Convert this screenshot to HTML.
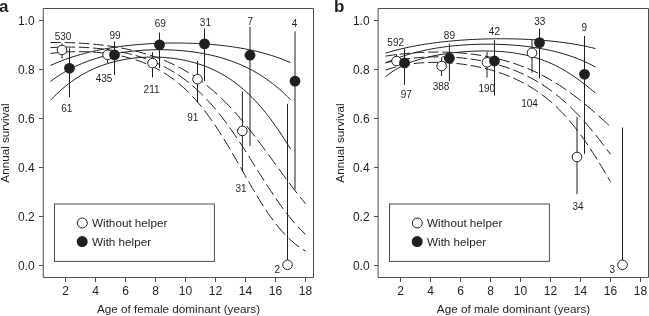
<!DOCTYPE html>
<html><head><meta charset="utf-8"><style>
html,body{margin:0;padding:0;background:#fff;width:649px;height:316px;overflow:hidden}
svg{display:block;filter:grayscale(1)}
text{font-family:"Liberation Sans",sans-serif;fill:#231f20}
.t{font-size:12px}
.tt{font-size:11.7px}
.n{font-size:10px;text-anchor:middle}
.lt{font-size:17px;font-weight:bold}
.ax{fill:none;stroke:#4d4d4f;stroke-width:1}
.lg{fill:#fff;stroke:#4d4d4f;stroke-width:1}
.s{fill:none;stroke:#231f20;stroke-width:1}
.d{fill:none;stroke:#231f20;stroke-width:1}
.e{stroke:#231f20;stroke-width:1}
.o{fill:#fff;stroke:#231f20;stroke-width:1}
.f{fill:#231f20;stroke:none}
</style></head><body>
<svg width="649" height="316" viewBox="0 0 649 316">
<path d="M43.25,8.5 H313.5 V277.5 H43.25 Z" class="ax"/>
<line x1="39" y1="265.5" x2="43.25" y2="265.5" class="ax"/>
<text x="34.6" y="269.8" class="t" text-anchor="end">0.0</text>
<line x1="39" y1="216.5" x2="43.25" y2="216.5" class="ax"/>
<text x="34.6" y="220.8" class="t" text-anchor="end">0.2</text>
<line x1="39" y1="167.5" x2="43.25" y2="167.5" class="ax"/>
<text x="34.6" y="171.8" class="t" text-anchor="end">0.4</text>
<line x1="39" y1="118.5" x2="43.25" y2="118.5" class="ax"/>
<text x="34.6" y="122.8" class="t" text-anchor="end">0.6</text>
<line x1="39" y1="69.5" x2="43.25" y2="69.5" class="ax"/>
<text x="34.6" y="73.8" class="t" text-anchor="end">0.8</text>
<line x1="39" y1="20.5" x2="43.25" y2="20.5" class="ax"/>
<text x="34.6" y="24.8" class="t" text-anchor="end">1.0</text>
<line x1="65.5" y1="277.5" x2="65.5" y2="282" class="ax"/>
<text x="65.5" y="295" class="t" text-anchor="middle">2</text>
<line x1="95.5" y1="277.5" x2="95.5" y2="282" class="ax"/>
<text x="95.5" y="295" class="t" text-anchor="middle">4</text>
<line x1="125.5" y1="277.5" x2="125.5" y2="282" class="ax"/>
<text x="125.5" y="295" class="t" text-anchor="middle">6</text>
<line x1="155.5" y1="277.5" x2="155.5" y2="282" class="ax"/>
<text x="155.5" y="295" class="t" text-anchor="middle">8</text>
<line x1="185.5" y1="277.5" x2="185.5" y2="282" class="ax"/>
<text x="185.5" y="295" class="t" text-anchor="middle">10</text>
<line x1="215.5" y1="277.5" x2="215.5" y2="282" class="ax"/>
<text x="215.5" y="295" class="t" text-anchor="middle">12</text>
<line x1="245.5" y1="277.5" x2="245.5" y2="282" class="ax"/>
<text x="245.5" y="295" class="t" text-anchor="middle">14</text>
<line x1="275.5" y1="277.5" x2="275.5" y2="282" class="ax"/>
<text x="275.5" y="295" class="t" text-anchor="middle">16</text>
<line x1="305.5" y1="277.5" x2="305.5" y2="282" class="ax"/>
<text x="305.5" y="295" class="t" text-anchor="middle">18</text>
<text x="178.5" y="313.2" class="tt" text-anchor="middle">Age of female dominant (years)</text>
<text transform="translate(8.8,143) rotate(-90)" class="tt" text-anchor="middle">Annual survival</text>
<text x="-1" y="11.8" class="lt">a</text>
<rect x="54.5" y="204.0" width="159.9" height="57.4" class="lg"/>
<circle cx="82.3" cy="223" r="5.0" class="o"/>
<circle cx="82.2" cy="241.6" r="5.5" class="f"/>
<text x="92" y="227.2" class="tt">Without helper</text>
<text x="92" y="245.8" class="tt">With helper</text>
<path d="M378.1,8.5 H648.5 V277.5 H378.1 Z" class="ax"/>
<line x1="374" y1="265.5" x2="378.1" y2="265.5" class="ax"/>
<text x="369.6" y="269.8" class="t" text-anchor="end">0.0</text>
<line x1="374" y1="216.5" x2="378.1" y2="216.5" class="ax"/>
<text x="369.6" y="220.8" class="t" text-anchor="end">0.2</text>
<line x1="374" y1="167.5" x2="378.1" y2="167.5" class="ax"/>
<text x="369.6" y="171.8" class="t" text-anchor="end">0.4</text>
<line x1="374" y1="118.5" x2="378.1" y2="118.5" class="ax"/>
<text x="369.6" y="122.8" class="t" text-anchor="end">0.6</text>
<line x1="374" y1="69.5" x2="378.1" y2="69.5" class="ax"/>
<text x="369.6" y="73.8" class="t" text-anchor="end">0.8</text>
<line x1="374" y1="20.5" x2="378.1" y2="20.5" class="ax"/>
<text x="369.6" y="24.8" class="t" text-anchor="end">1.0</text>
<line x1="400.5" y1="277.5" x2="400.5" y2="282" class="ax"/>
<text x="400.5" y="295" class="t" text-anchor="middle">2</text>
<line x1="430.5" y1="277.5" x2="430.5" y2="282" class="ax"/>
<text x="430.5" y="295" class="t" text-anchor="middle">4</text>
<line x1="460.5" y1="277.5" x2="460.5" y2="282" class="ax"/>
<text x="460.5" y="295" class="t" text-anchor="middle">6</text>
<line x1="490.5" y1="277.5" x2="490.5" y2="282" class="ax"/>
<text x="490.5" y="295" class="t" text-anchor="middle">8</text>
<line x1="520.5" y1="277.5" x2="520.5" y2="282" class="ax"/>
<text x="520.5" y="295" class="t" text-anchor="middle">10</text>
<line x1="550.5" y1="277.5" x2="550.5" y2="282" class="ax"/>
<text x="550.5" y="295" class="t" text-anchor="middle">12</text>
<line x1="580.5" y1="277.5" x2="580.5" y2="282" class="ax"/>
<text x="580.5" y="295" class="t" text-anchor="middle">14</text>
<line x1="610.5" y1="277.5" x2="610.5" y2="282" class="ax"/>
<text x="610.5" y="295" class="t" text-anchor="middle">16</text>
<line x1="640.5" y1="277.5" x2="640.5" y2="282" class="ax"/>
<text x="640.5" y="295" class="t" text-anchor="middle">18</text>
<text x="513.5" y="313.2" class="tt" text-anchor="middle">Age of male dominant (years)</text>
<text transform="translate(343.8,143) rotate(-90)" class="tt" text-anchor="middle">Annual survival</text>
<text x="334" y="11.8" class="lt">b</text>
<rect x="389.5" y="204.0" width="159.9" height="57.4" class="lg"/>
<circle cx="417.3" cy="223" r="5.0" class="o"/>
<circle cx="417.2" cy="241.6" r="5.5" class="f"/>
<text x="427" y="227.2" class="tt">Without helper</text>
<text x="427" y="245.8" class="tt">With helper</text>
<path d="M50.50,65.46 L54.17,63.82 L57.88,62.26 L61.62,60.78 L65.39,59.37 L69.19,58.03 L73.01,56.77 L76.85,55.58 L80.71,54.45 L84.59,53.39 L88.49,52.40 L92.41,51.47 L96.33,50.60 L100.27,49.78 L104.22,49.03 L108.18,48.32 L112.15,47.67 L116.13,47.06 L120.12,46.51 L124.11,46.00 L128.10,45.53 L132.10,45.11 L136.11,44.73 L140.12,44.39 L144.13,44.08 L148.14,43.82 L152.16,43.60 L156.18,43.41 L160.20,43.25 L164.22,43.14 L168.24,43.05 L172.27,43.01 L176.29,43.00 L180.31,43.02 L184.34,43.08 L188.36,43.17 L192.38,43.30 L196.40,43.47 L200.42,43.67 L204.43,43.92 L208.45,44.20 L212.46,44.52 L216.46,44.89 L220.46,45.30 L224.46,45.75 L228.45,46.25 L232.44,46.80 L236.42,47.41 L240.39,48.06 L244.35,48.77 L248.30,49.54 L252.23,50.37 L256.16,51.26 L260.06,52.21 L263.95,53.24 L267.82,54.34 L271.67,55.51 L275.50,56.76 L279.29,58.09 L283.06,59.50 L286.80,60.99 L290.50,62.57" class="s"/>
<path d="M50.50,81.41 L53.73,79.05 L57.03,76.79 L60.38,74.61 L63.80,72.53 L67.27,70.55 L70.80,68.67 L74.37,66.88 L78.00,65.20 L81.67,63.61 L85.38,62.13 L89.13,60.74 L92.92,59.45 L96.73,58.25 L100.57,57.14 L104.44,56.12 L108.32,55.18 L112.23,54.33 L116.15,53.55 L120.09,52.86 L124.04,52.24 L128.00,51.69 L131.97,51.21 L135.95,50.81 L139.93,50.46 L143.92,50.19 L147.92,49.97 L151.91,49.82 L155.91,49.73 L159.91,49.71 L163.90,49.74 L167.90,49.84 L171.90,50.00 L175.89,50.22 L179.88,50.50 L183.86,50.85 L187.84,51.27 L191.81,51.75 L195.77,52.30 L199.72,52.93 L203.65,53.63 L207.58,54.40 L211.48,55.26 L215.37,56.19 L219.24,57.21 L223.08,58.31 L226.89,59.51 L230.68,60.79 L234.43,62.17 L238.15,63.65 L241.83,65.22 L245.46,66.88 L249.05,68.65 L252.59,70.51 L256.08,72.47 L259.51,74.52 L262.88,76.66 L266.20,78.90 L269.45,81.22 L272.64,83.63 L275.77,86.12 L278.84,88.68 L281.84,91.32 L284.79,94.03 L287.67,96.79 L290.50,99.62" class="s"/>
<path d="M50.50,100.25 L53.28,97.36 L56.13,94.53 L59.05,91.78 L62.05,89.10 L65.12,86.52 L68.26,84.02 L71.48,81.62 L74.77,79.32 L78.13,77.13 L81.56,75.04 L85.06,73.07 L88.62,71.22 L92.24,69.48 L95.91,67.87 L99.63,66.37 L103.40,64.99 L107.21,63.73 L111.06,62.58 L114.94,61.55 L118.85,60.63 L122.78,59.82 L126.73,59.12 L130.70,58.53 L134.69,58.03 L138.68,57.64 L142.68,57.35 L146.69,57.16 L150.71,57.07 L154.72,57.07 L158.73,57.17 L162.74,57.37 L166.75,57.67 L170.74,58.07 L174.72,58.57 L178.69,59.18 L182.64,59.89 L186.57,60.70 L190.48,61.63 L194.35,62.67 L198.20,63.82 L202.01,65.09 L205.77,66.47 L209.50,67.98 L213.17,69.60 L216.79,71.34 L220.34,73.20 L223.84,75.17 L227.27,77.25 L230.63,79.45 L233.92,81.75 L237.14,84.15 L240.28,86.64 L243.35,89.23 L246.35,91.90 L249.28,94.65 L252.13,97.47 L254.92,100.36 L257.64,103.31 L260.29,106.32 L262.89,109.38 L265.43,112.49 L267.91,115.64 L270.35,118.84 L272.73,122.06 L275.07,125.32 L277.38,128.61 L279.64,131.93 L281.87,135.27 L284.06,138.63 L286.23,142.00 L288.38,145.40 L290.50,148.80" class="s"/>
<path d="M50.50,42.52 L53.97,42.48 L57.43,42.47 L60.90,42.50 M64.70,42.55 L68.17,42.64 L71.63,42.75 L75.10,42.89 M78.90,43.09 L82.37,43.29 L85.84,43.53 L89.30,43.81 M93.10,44.14 L96.57,44.48 L100.04,44.86 L103.50,45.27 M107.30,45.77 L110.77,46.26 L114.24,46.80 L117.70,47.38 M121.50,48.06 L124.98,48.73 L128.44,49.45 L131.90,50.22 M135.70,51.13 L139.18,52.02 L142.65,52.97 L146.10,53.97 M149.90,55.15 L153.39,56.30 L156.86,57.52 L160.30,58.81 M164.10,60.31 L167.60,61.79 L171.07,63.34 L174.50,64.97 M178.30,66.88 L181.81,68.75 L185.28,70.71 L188.70,72.74 M192.50,75.13 L196.02,77.47 L199.49,79.89 L202.90,82.40 M206.70,85.34 L210.23,88.21 L213.70,91.17 L217.10,94.20 M220.90,97.75 L223.50,100.27 L226.06,102.83 L228.59,105.43 L231.08,108.06 M234.56,111.86 L237.60,115.29 L240.60,118.75 L243.55,122.26 M246.66,126.06 L249.43,129.50 L252.16,132.97 L254.87,136.46 M257.77,140.26 L260.37,143.71 L262.96,147.18 L265.53,150.66 M268.32,154.46 L270.85,157.92 L273.37,161.39 L275.90,164.86 M278.66,168.66 L281.20,172.13 L283.74,175.60 L286.29,179.06 M289.13,182.86 L291.76,186.34 L294.41,189.81 L297.09,193.26 M300.10,197.06 L302.78,200.37 L305.50,203.65" class="d"/>
<path d="M50.50,47.65 L53.96,47.44 L57.43,47.28 L60.90,47.16 M64.70,47.08 L68.17,47.04 L71.63,47.05 L75.10,47.10 M78.90,47.20 L82.37,47.33 L85.84,47.51 L89.30,47.72 M93.10,48.01 L96.57,48.33 L100.04,48.68 L103.50,49.09 M107.30,49.59 L110.78,50.10 L114.24,50.67 L117.70,51.29 M121.50,52.04 L124.98,52.79 L128.45,53.60 L131.90,54.47 M135.70,55.52 L139.19,56.56 L142.66,57.67 L146.10,58.86 M149.90,60.28 L153.40,61.68 L156.87,63.17 L160.30,64.75 M164.10,66.63 L167.62,68.49 L171.09,70.45 L174.50,72.51 M178.30,74.96 L181.84,77.39 L185.31,79.93 L188.70,82.56 M192.50,85.70 L195.17,88.02 L197.80,90.41 L200.37,92.84 L202.90,95.33 M206.58,99.13 L209.72,102.53 L212.79,106.00 L215.78,109.53 M218.89,113.33 L221.59,116.76 L224.25,120.23 L226.85,123.73 M229.60,127.53 L232.04,130.97 L234.44,134.44 L236.81,137.93 M239.35,141.73 L241.63,145.19 L243.88,148.65 L246.12,152.13 M248.54,155.93 L250.74,159.39 L252.92,162.86 L255.11,166.33 M257.50,170.13 L259.68,173.60 L261.87,177.07 L264.07,180.53 M266.51,184.33 L268.76,187.81 L271.03,191.28 L273.33,194.73 M275.91,198.53 L278.33,202.03 L280.80,205.49 L283.30,208.93 M286.17,212.73 L288.93,216.26 L291.76,219.72 L294.66,223.13 M298.08,226.93 L300.50,229.47 L302.97,231.95 L305.50,234.36" class="d"/>
<path d="M50.50,53.45 L53.96,53.03 L57.43,52.67 L60.90,52.36 M64.70,52.08 L68.16,51.89 L71.63,51.75 L75.10,51.66 M78.90,51.63 L82.37,51.66 L85.83,51.74 L89.30,51.87 M93.10,52.09 L96.57,52.34 L100.04,52.65 L103.50,53.03 M107.30,53.51 L110.78,54.02 L114.24,54.59 L117.70,55.24 M121.50,56.03 L124.99,56.84 L128.45,57.73 L131.90,58.70 M135.70,59.87 L139.20,61.05 L142.67,62.33 L146.10,63.70 M149.90,65.34 L153.42,67.00 L156.89,68.77 L160.30,70.64 M164.10,72.89 L167.64,75.16 L171.11,77.55 L174.50,80.05 M178.30,83.06 L180.99,85.33 L183.61,87.66 L186.18,90.05 L188.70,92.50 M192.39,96.30 L195.49,99.70 L198.50,103.17 L201.44,106.70 M204.45,110.50 L207.05,113.93 L209.59,117.40 L212.08,120.90 M214.69,124.70 L216.99,128.15 L219.25,131.61 L221.47,135.10 M223.83,138.90 L225.94,142.36 L228.03,145.82 L230.09,149.30 M232.32,153.10 L234.33,156.57 L236.32,160.03 L238.31,163.50 M240.47,167.30 L242.44,170.77 L244.42,174.24 L246.39,177.70 M248.57,181.50 L250.57,184.98 L252.59,188.45 L254.63,191.90 M256.90,195.70 L259.02,199.19 L261.17,202.66 L263.36,206.10 M265.85,209.90 L268.21,213.41 L270.64,216.88 L273.12,220.30 M276.02,224.10 L278.89,227.66 L281.86,231.13 L284.94,234.50 M288.69,238.27 L292.02,241.32 L295.48,244.22 L299.09,246.93 M302.89,249.49 L305.50,251.06" class="d"/>
<path d="M385.50,53.15 L389.34,52.01 L393.19,50.94 L397.06,49.92 L400.94,48.97 L404.84,48.07 L408.75,47.22 L412.67,46.42 L416.60,45.68 L420.54,44.98 L424.49,44.33 L428.44,43.72 L432.40,43.15 L436.37,42.62 L440.34,42.14 L444.32,41.69 L448.30,41.28 L452.28,40.90 L456.26,40.55 L460.25,40.24 L464.24,39.96 L468.24,39.71 L472.23,39.49 L476.23,39.30 L480.23,39.14 L484.22,39.01 L488.22,38.90 L492.22,38.83 L496.22,38.78 L500.23,38.76 L504.23,38.76 L508.23,38.80 L512.23,38.86 L516.23,38.95 L520.23,39.07 L524.22,39.22 L528.22,39.41 L532.22,39.62 L536.21,39.86 L540.20,40.14 L544.19,40.46 L548.17,40.81 L552.16,41.19 L556.13,41.62 L560.11,42.09 L564.07,42.61 L568.04,43.16 L571.99,43.77 L575.94,44.43 L579.87,45.14 L583.80,45.91 L587.71,46.74 L591.61,47.62 L595.50,48.58" class="s"/>
<path d="M385.50,62.92 L389.16,61.31 L392.86,59.78 L396.59,58.35 L400.36,56.99 L404.15,55.72 L407.97,54.54 L411.81,53.43 L415.68,52.39 L419.56,51.44 L423.46,50.55 L427.38,49.73 L431.31,48.97 L435.25,48.28 L439.20,47.65 L443.16,47.08 L447.12,46.56 L451.10,46.10 L455.08,45.69 L459.06,45.34 L463.05,45.03 L467.04,44.77 L471.04,44.56 L475.04,44.39 L479.03,44.27 L483.03,44.20 L487.03,44.17 L491.03,44.19 L495.03,44.25 L499.03,44.36 L503.03,44.51 L507.03,44.72 L511.02,44.97 L515.01,45.27 L518.99,45.62 L522.97,46.02 L526.95,46.48 L530.91,47.00 L534.87,47.57 L538.82,48.21 L542.76,48.91 L546.69,49.67 L550.60,50.51 L554.50,51.42 L558.37,52.40 L562.23,53.47 L566.06,54.61 L569.87,55.85 L573.65,57.16 L577.39,58.57 L581.10,60.07 L584.77,61.67 L588.39,63.36 L591.97,65.15 L595.50,67.03" class="s"/>
<path d="M385.50,76.75 L388.66,74.24 L391.94,71.89 L395.34,69.72 L398.84,67.71 L402.43,65.87 L406.10,64.19 L409.83,62.65 L413.61,61.26 L417.45,60.00 L421.31,58.85 L425.21,57.81 L429.14,56.86 L433.08,56.01 L437.04,55.23 L441.02,54.53 L445.00,53.90 L449.00,53.34 L453.00,52.84 L457.01,52.40 L461.03,52.01 L465.05,51.69 L469.08,51.42 L473.11,51.21 L477.14,51.07 L481.18,50.98 L485.21,50.96 L489.25,51.00 L493.28,51.11 L497.31,51.30 L501.34,51.56 L505.36,51.91 L509.37,52.34 L513.37,52.86 L517.36,53.48 L521.33,54.19 L525.28,55.01 L529.21,55.93 L533.11,56.97 L536.98,58.12 L540.81,59.39 L544.60,60.77 L548.34,62.28 L552.04,63.89 L555.68,65.63 L559.27,67.47 L562.81,69.42 L566.29,71.47 L569.71,73.61 L573.08,75.83 L576.39,78.13 L579.66,80.49 L582.89,82.92 L586.08,85.39 L589.24,87.90 L592.38,90.44 L595.50,92.99" class="s"/>
<path d="M385.50,56.17 L388.96,55.63 L392.43,55.13 L395.90,54.67 M399.70,54.21 L403.16,53.82 L406.63,53.47 L410.10,53.16 M413.90,52.86 L417.36,52.63 L420.83,52.43 L424.30,52.27 M428.10,52.14 L431.57,52.06 L435.03,52.02 L438.50,52.02 M442.30,52.07 L445.77,52.15 L449.23,52.27 L452.70,52.43 M456.50,52.66 L459.97,52.91 L463.44,53.21 L466.90,53.55 M470.70,53.98 L474.17,54.42 L477.64,54.91 L481.10,55.45 M484.90,56.10 L488.38,56.75 L491.84,57.46 L495.30,58.22 M499.10,59.13 L502.58,60.02 L506.05,60.98 L509.50,61.99 M513.30,63.19 L516.79,64.37 L520.26,65.61 L523.70,66.91 M527.50,68.44 L531.00,69.94 L534.46,71.50 L537.90,73.13 M541.70,75.03 L545.20,76.88 L548.67,78.79 L552.10,80.77 M555.90,83.07 L559.41,85.29 L562.87,87.58 L566.30,89.92 M570.10,92.62 L573.61,95.20 L577.07,97.84 L580.50,100.53 M584.30,103.60 L587.80,106.51 L591.26,109.45 L594.70,112.43 M598.50,115.78 L601.12,118.13 L603.72,120.49 L606.31,122.86 L608.90,125.24" class="d"/>
<path d="M385.50,62.83 L388.95,62.02 L392.42,61.28 L395.90,60.60 M399.70,59.92 L403.16,59.37 L406.63,58.87 L410.10,58.44 M413.90,58.02 L417.36,57.69 L420.83,57.42 L424.30,57.20 M428.10,57.01 L431.57,56.90 L435.03,56.83 L438.50,56.81 M442.30,56.85 L445.77,56.93 L449.24,57.07 L452.70,57.25 M456.50,57.51 L459.97,57.80 L463.44,58.15 L466.90,58.54 M470.70,59.04 L474.18,59.56 L477.64,60.13 L481.10,60.76 M484.90,61.52 L488.38,62.28 L491.85,63.11 L495.30,64.01 M499.10,65.07 L502.59,66.13 L506.06,67.26 L509.50,68.46 M513.30,69.88 L516.80,71.29 L520.27,72.78 L523.70,74.34 M527.50,76.19 L531.01,78.01 L534.48,79.92 L537.90,81.91 M541.70,84.26 L545.23,86.57 L548.69,88.97 L552.10,91.45 M555.90,94.37 L559.44,97.24 L562.90,100.19 L566.30,103.22 M570.10,106.77 L572.69,109.29 L575.25,111.85 L577.77,114.45 L580.25,117.09 M583.71,120.89 L586.73,124.31 L589.71,127.78 L592.64,131.29 M595.74,135.09 L598.48,138.53 L601.19,142.00 L603.88,145.49 M606.76,149.29 L608.64,151.79 L610.50,154.29" class="d"/>
<path d="M385.50,70.13 L388.93,68.95 L392.40,67.88 L395.90,66.92 M399.70,66.00 L403.15,65.27 L406.62,64.63 L410.10,64.08 M413.90,63.57 L417.36,63.19 L420.83,62.89 L424.30,62.65 M428.10,62.47 L431.57,62.38 L435.03,62.35 L438.50,62.38 M442.30,62.48 L445.77,62.63 L449.24,62.85 L452.70,63.11 M456.50,63.48 L459.97,63.87 L463.44,64.31 L466.90,64.81 M470.70,65.44 L474.18,66.07 L477.65,66.76 L481.10,67.51 M484.90,68.41 L488.39,69.31 L491.85,70.28 L495.30,71.31 M499.10,72.54 L502.59,73.75 L506.06,75.04 L509.50,76.41 M513.30,78.03 L516.81,79.64 L520.28,81.33 L523.70,83.10 M527.50,85.21 L531.03,87.30 L534.49,89.49 L537.90,91.78 M541.70,94.50 L545.25,97.20 L548.72,100.02 L552.10,102.92 M555.90,106.39 L558.49,108.89 L561.03,111.44 L563.52,114.04 L565.96,116.69 M569.31,120.49 L572.17,123.90 L574.97,127.37 L577.71,130.89 M580.55,134.69 L583.04,138.12 L585.47,141.59 L587.86,145.09 M590.39,148.89 L592.64,152.34 L594.85,155.80 L597.03,159.29 M599.37,163.09 L601.47,166.55 L603.55,170.01 L605.62,173.49 M607.86,177.29 L610.50,181.79" class="d"/>
<line x1="62.0" y1="43.5" x2="62.0" y2="58.5" class="e"/>
<line x1="69.5" y1="48.3" x2="69.5" y2="97.2" class="e"/>
<line x1="107.6" y1="48.1" x2="107.6" y2="63.0" class="e"/>
<line x1="114.5" y1="41.4" x2="114.5" y2="75.1" class="e"/>
<line x1="152.5" y1="52.2" x2="152.5" y2="77.4" class="e"/>
<line x1="159.5" y1="32.5" x2="159.5" y2="68.2" class="e"/>
<line x1="197.5" y1="61.0" x2="197.5" y2="103.0" class="e"/>
<line x1="204.5" y1="28.4" x2="204.5" y2="81.3" class="e"/>
<line x1="242.4" y1="91.5" x2="242.4" y2="171.2" class="e"/>
<line x1="250.0" y1="26.7" x2="250.0" y2="145.9" class="e"/>
<line x1="287.5" y1="103.9" x2="287.5" y2="264.8" class="e"/>
<line x1="295.0" y1="31.3" x2="295.0" y2="189.7" class="e"/>
<line x1="396.5" y1="54.1" x2="396.5" y2="66.0" class="e"/>
<line x1="404.5" y1="48.7" x2="404.5" y2="84.7" class="e"/>
<line x1="441.6" y1="57.3" x2="441.6" y2="76.0" class="e"/>
<line x1="449.4" y1="43.7" x2="449.4" y2="81.1" class="e"/>
<line x1="487.0" y1="51.7" x2="487.0" y2="77.6" class="e"/>
<line x1="494.5" y1="40.3" x2="494.5" y2="95.6" class="e"/>
<line x1="532.0" y1="39.9" x2="532.0" y2="72.7" class="e"/>
<line x1="539.5" y1="28.5" x2="539.5" y2="78.4" class="e"/>
<line x1="577.0" y1="117.1" x2="577.0" y2="194.2" class="e"/>
<line x1="584.5" y1="36.0" x2="584.5" y2="153.9" class="e"/>
<line x1="622.5" y1="127.5" x2="622.5" y2="264.8" class="e"/>
<circle cx="62.0" cy="49.97" r="4.8" class="o"/>
<circle cx="69.5" cy="68.3" r="5.4" class="f"/>
<circle cx="107.6" cy="54.8" r="4.8" class="o"/>
<circle cx="114.5" cy="54.9" r="5.4" class="f"/>
<circle cx="152.5" cy="63.1" r="4.8" class="o"/>
<circle cx="159.5" cy="44.8" r="5.4" class="f"/>
<circle cx="197.5" cy="79.2" r="4.8" class="o"/>
<circle cx="204.5" cy="43.85" r="5.4" class="f"/>
<circle cx="242.4" cy="130.9" r="4.8" class="o"/>
<circle cx="250.0" cy="55.2" r="5.4" class="f"/>
<circle cx="287.5" cy="264.8" r="4.8" class="o"/>
<circle cx="295.0" cy="81.1" r="5.4" class="f"/>
<circle cx="396.5" cy="61.1" r="4.8" class="o"/>
<circle cx="404.5" cy="62.9" r="5.4" class="f"/>
<circle cx="441.6" cy="66.0" r="4.8" class="o"/>
<circle cx="449.4" cy="58.3" r="5.4" class="f"/>
<circle cx="487.0" cy="62.3" r="4.8" class="o"/>
<circle cx="494.5" cy="61.0" r="5.4" class="f"/>
<circle cx="532.0" cy="52.9" r="4.8" class="o"/>
<circle cx="539.5" cy="42.6" r="5.4" class="f"/>
<circle cx="577.0" cy="157.0" r="4.8" class="o"/>
<circle cx="584.5" cy="74.3" r="5.4" class="f"/>
<circle cx="622.5" cy="264.8" r="4.8" class="o"/>
<text x="63.0" y="39.7" class="n">530</text>
<text x="66.8" y="111.9" class="n">61</text>
<text x="104.0" y="81.6" class="n">435</text>
<text x="115.1" y="38.5" class="n">99</text>
<text x="151.6" y="92.5" class="n">211</text>
<text x="160.2" y="26.9" class="n">69</text>
<text x="192.7" y="121.4" class="n">91</text>
<text x="205.4" y="25.9" class="n">31</text>
<text x="241.1" y="192.1" class="n">31</text>
<text x="250.3" y="24.5" class="n">7</text>
<text x="277.3" y="273.1" class="n">2</text>
<text x="294.6" y="27.2" class="n">4</text>
<text x="395.7" y="46.2" class="n">592</text>
<text x="406.2" y="98.3" class="n">97</text>
<text x="441.0" y="90.2" class="n">388</text>
<text x="449.4" y="38.8" class="n">89</text>
<text x="486.8" y="92.1" class="n">190</text>
<text x="494.4" y="35.2" class="n">42</text>
<text x="529.5" y="107.3" class="n">104</text>
<text x="539.8" y="25.0" class="n">33</text>
<text x="578.0" y="210.3" class="n">34</text>
<text x="584.2" y="30.9" class="n">9</text>
<text x="612.3" y="273.1" class="n">3</text>
</svg>
</body></html>
